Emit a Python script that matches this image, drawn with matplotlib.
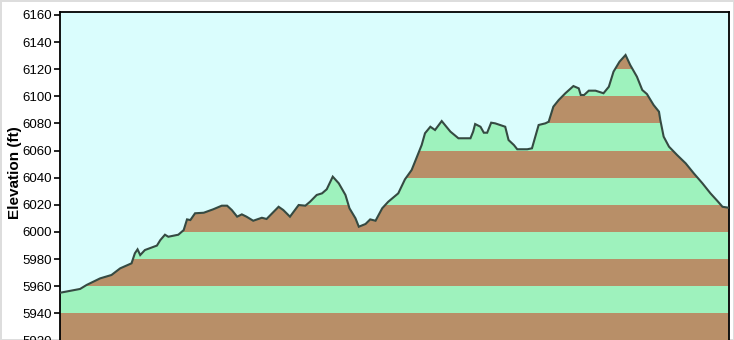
import numpy as np
import matplotlib
matplotlib.use('Agg')
import matplotlib.pyplot as plt
from matplotlib.patches import Polygon

# ====================================
# Profile data (distance in miles, elevation in ft)
# ====================================
dist = [0.00, 0.30, 0.40, 0.60, 0.77, 0.90, 1.07, 1.12, 1.16, 1.20,
        1.27, 1.45, 1.50, 1.57, 1.62, 1.77, 1.85, 1.90, 1.95, 2.02,
        2.15, 2.29, 2.42, 2.50, 2.57, 2.65, 2.72, 2.79, 2.89, 3.02,
        3.09, 3.27, 3.34, 3.44, 3.57, 3.67, 3.74, 3.84, 3.92, 3.99,
        4.02, 4.08, 4.17, 4.27, 4.33, 4.42, 4.47, 4.57, 4.64, 4.72,
        4.82, 4.91, 5.06, 5.16, 5.26, 5.34, 5.41, 5.46, 5.54, 5.61,
        5.71, 5.84, 5.96, 6.14, 6.18, 6.21, 6.29, 6.34, 6.39, 6.45,
        6.51, 6.66, 6.71, 6.79, 6.84, 6.99, 7.06, 7.11, 7.16, 7.26,
        7.31, 7.38, 7.46, 7.56, 7.68, 7.76, 7.79, 7.84, 7.91, 8.01,
        8.13, 8.21, 8.28, 8.37, 8.46, 8.53, 8.63, 8.71, 8.78, 8.88,
        8.96, 8.98, 9.03, 9.11, 9.23, 9.36, 9.48, 9.61, 9.73, 9.83,
        9.91, 10.00]
elev = [5955.2, 5958.0, 5961.0, 5965.8, 5968.3, 5973.2, 5976.9, 5984.3, 5987.2, 5983.0,
        5986.7, 5990.0, 5994.0, 5998.0, 5996.5, 5998.0, 6001.4, 6009.3, 6008.8, 6013.8,
        6014.2, 6016.7, 6019.4, 6019.4, 6016.2, 6011.3, 6013.0, 6011.3, 6008.3, 6010.5,
        6009.6, 6018.6, 6016.2, 6011.3, 6019.9, 6019.4, 6022.3, 6027.3, 6028.5, 6031.5,
        6034.6, 6040.8, 6035.9, 6027.3, 6017.5, 6010.1, 6003.9, 6005.9, 6009.3, 6008.3,
        6017.5, 6022.3, 6028.5, 6038.8, 6045.7, 6055.5, 6064.1, 6072.8, 6077.6, 6075.2,
        6081.8, 6074.0, 6069.1, 6069.1, 6074.0, 6079.6, 6077.6, 6073.2, 6073.2, 6080.6,
        6080.1, 6077.6, 6067.8, 6064.1, 6061.0, 6061.0, 6061.7, 6070.3, 6078.9, 6080.1,
        6081.3, 6092.4, 6097.3, 6102.3, 6107.6, 6105.9, 6101.0, 6101.0, 6104.2, 6104.2,
        6102.3, 6107.1, 6118.2, 6125.6, 6130.5, 6123.1, 6114.5, 6104.7, 6101.7, 6093.6,
        6088.7, 6082.6, 6070.3, 6062.9, 6056.8, 6050.6, 6043.3, 6035.9, 6028.5, 6023.1,
        6018.6, 6017.9]

yticks = [5920, 5940, 5960, 5980, 6000, 6020, 6040, 6060, 6080, 6100, 6120, 6140, 6160]

# ====================================
# Style
# ====================================
bg_color    = '#dafdfd'
brown       = '#b88f68'
green       = '#9ef2bd'
line_color  = '#354a42'
band_height = 20

plt.rcParams['font.family'] = ['Liberation Sans', 'DejaVu Sans']

fig = plt.figure(figsize=(7.34, 3.4), dpi=100, facecolor='white',
                 edgecolor='#dddddd', linewidth=1.0)
ax = fig.add_axes([60/734, -0.5/340, 668.5/734, 328.5/340])
ax.set_facecolor(bg_color)

ylims = (5920, 6162.2)
ax.set_xlim(dist[0], dist[-1])
ax.set_ylim(ylims)

# ====================================
# Striped terrain fill
# ====================================
verts = np.column_stack([[dist[0]] + dist + [dist[-1]],
                         [ylims[0] - 50] + elev + [ylims[0] - 50]])
terrain = Polygon(verts, closed=True, transform=ax.transData,
                  facecolor='none', edgecolor='none')

for i, lo in enumerate(np.arange(ylims[0], 6160, band_height)):
    band = ax.axhspan(lo, lo + band_height, color=brown if i % 2 == 0 else green,
                      linewidth=0, zorder=1)
    band.set_clip_path(terrain)

ax.plot(dist, elev, color=line_color, linewidth=1.5, zorder=3,
        solid_joinstyle='miter')

# ====================================
# Format axes
# ====================================
ax.set_yticks(yticks)
ax.tick_params(axis='y', direction='out', length=4, width=1.2, labelsize=9.5,
               pad=2, colors='black')
ax.tick_params(axis='x', bottom=False, labelbottom=False)
for side in ['left', 'top', 'right', 'bottom']:
    ax.spines[side].set_linewidth(1.3)
ax.set_ylabel('Elevation (ft)', fontsize=11, fontweight='bold')
ax.yaxis.set_label_coords(-0.057, 0.51)

fig.savefig('out.png', dpi=100, facecolor='white', edgecolor='#dddddd')
